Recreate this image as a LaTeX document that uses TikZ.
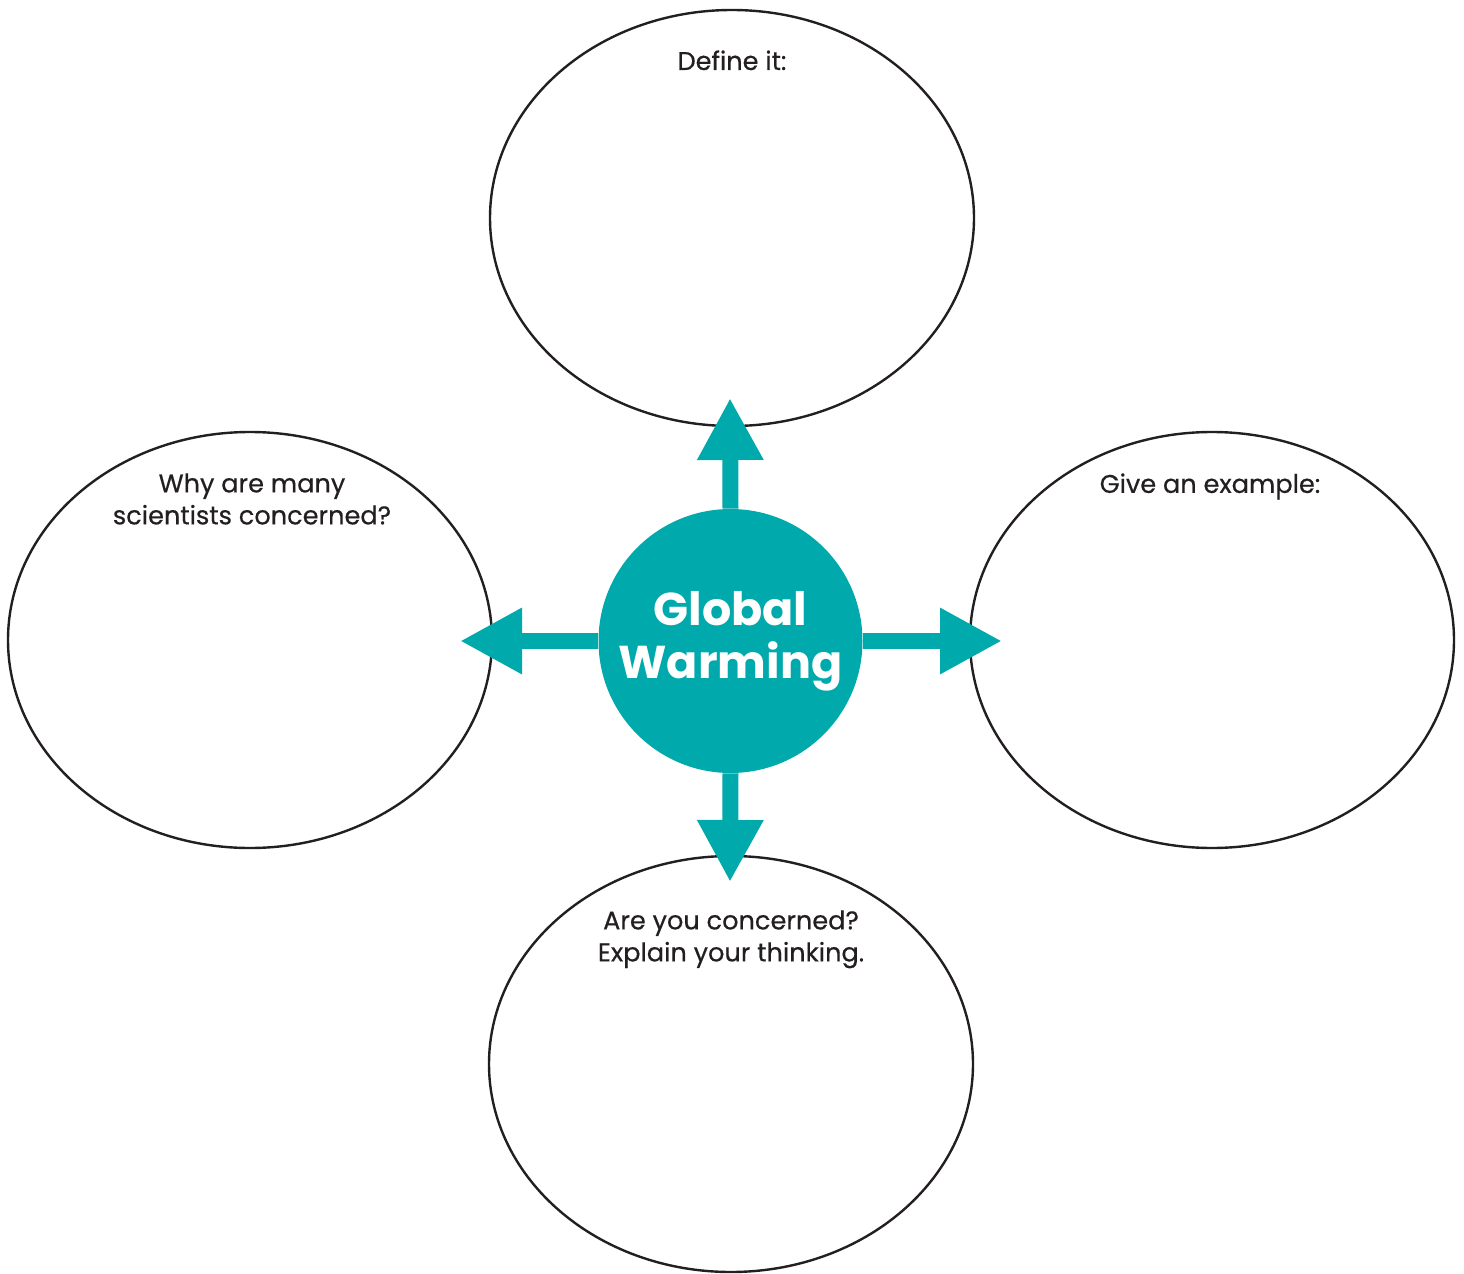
\documentclass[tikz,border=0pt]{standalone}
\usepackage{fontspec}
\setmainfont{Poppins}
\newfontfamily\promptfont{Poppins}[FakeBold=0.5]
\usetikzlibrary{arrows.meta,shapes.geometric}
\definecolor{gwteal}{HTML}{00A9AC}
\definecolor{ink}{HTML}{231F20}

\begin{document}
\begin{tikzpicture}[x = 0.5pt, y = -0.5pt,
    bubble/.style = {draw = ink, line width = 1.2pt, ellipse, minimum width = 242pt, minimum height = 208pt, inner sep = 0pt},
    prompt/.style = {anchor = north, align = center, text = ink, inner sep = 0pt, font = \promptfont\fontsize{12.8}{16}\selectfont},
    spoke/.style = {-{Triangle[length = 31pt, width = 31pt]}, line width = 8pt, draw = gwteal}]
    \useasboundingbox (0,0) rectangle (1464,1274);
    \node[bubble] (define) at (732,218) {};
    \node[bubble] (why) at (250,640) {};
    \node[bubble] (example) at (1212,640) {};
    \node[bubble] (concern) at (731,1064) {};
    \node[circle, fill = gwteal, minimum size = 132pt, inner sep = 0pt, text = white, align = center,
        font = \fontsize{23}{26.5}\selectfont\bfseries] (core) at (730.5,641) {Global\\Warming};
    \coordinate (uptip) at (730,398);
    \coordinate (downtip) at (730,882);
    \coordinate (lefttip) at (460,641);
    \coordinate (righttip) at (1002,641);
    \draw[spoke] (core.north) -- (uptip);
    \draw[spoke] (core.south) -- (downtip);
    \draw[spoke] (core.west) -- (lefttip);
    \draw[spoke] (core.east) -- (righttip);
        % Labels
    \node[prompt] at (732,50) {Define it:};
    \node[prompt] at (252,473) {Why are many\\scientists concerned?};
    \node[prompt] at (1210,473) {Give an example:};
    \node[prompt] at (731,910) {Are you concerned?\\Explain your thinking.};
  \end{tikzpicture}
\end{document}
